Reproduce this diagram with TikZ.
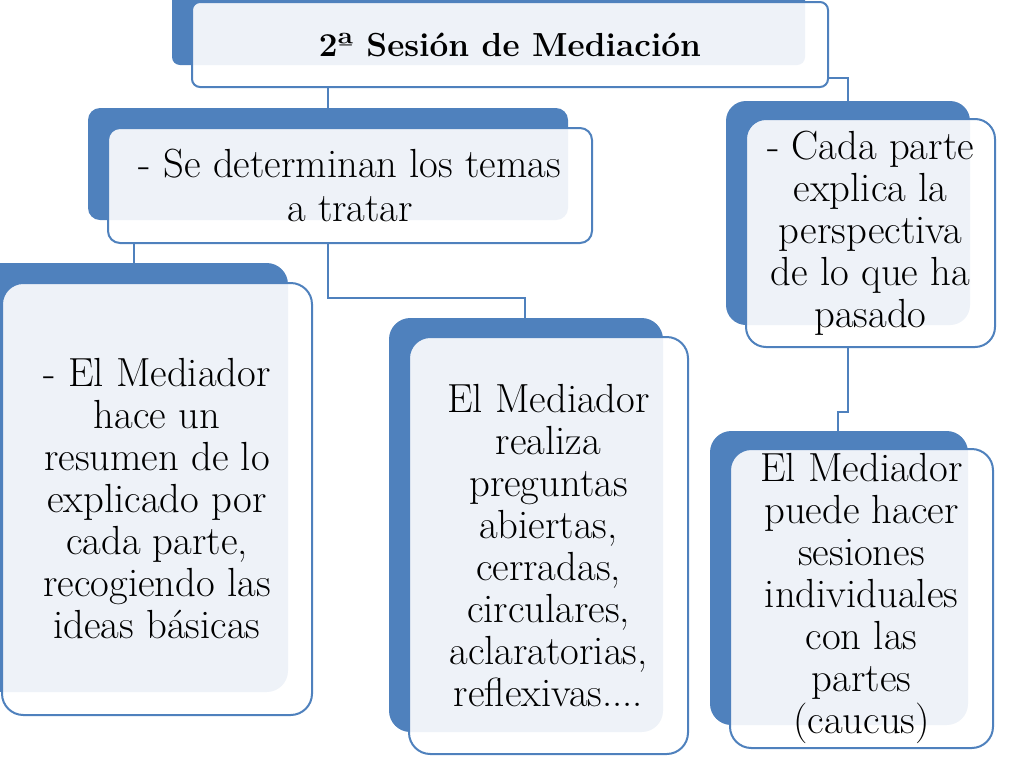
\documentclass[tikz,border=0pt]{standalone}
\usepackage{fontspec}
\definecolor{smblue}{RGB}{79,129,189}
\definecolor{paleblue}{RGB}{238,242,248}
\tikzset{
backpanel/.style={fill=smblue, rounded corners=#1},
frontfill/.style={fill=white, rounded corners=#1},
palefill/.style={fill=paleblue, rounded corners=#1},
frontpanel/.style={
  draw=smblue,
  line width=1.5pt,
  rounded corners=#1,
  inner sep=0pt,
  align=center,
  font=\fontsize{30.5}{31.5}\selectfont
  },
link/.style={draw=smblue, line width=1.6pt}
}

\begin{document}
\begin{tikzpicture}[x=0.75pt,y=0.75pt,yscale=-1,xscale=1]
\useasboundingbox (0,0) rectangle (1024,768);

% title
\fill[backpanel=6pt] (172,-20) rectangle (805,65);
\fill[frontfill=6pt] (192,2) rectangle (828,87);
\begin{scope}
\clip[rounded corners=6pt] (172,-20) rectangle (805,65);
\fill[palefill=6pt] (192,2) rectangle (828,87);
\end{scope}
\node[frontpanel=6pt, minimum width=477pt, minimum height=63.75pt, font=\fontsize{25}{30}\selectfont\bfseries] (title) at (510,44.5) {2ª Sesión de Mediación};

% temas
\fill[backpanel=9pt] (88,108) rectangle (568,220);
\fill[frontfill=9pt] (108,128) rectangle (592,243);
\begin{scope}
\clip[rounded corners=9pt] (88,108) rectangle (568,220);
\fill[palefill=9pt] (108,128) rectangle (592,243);
\end{scope}
\node[frontpanel=9pt, minimum width=363pt, minimum height=86.25pt, font=\fontsize{30.5}{33}\selectfont] (temas) at (350,185.5) {- Se determinan los temas\\a tratar};

% resumen
\fill[backpanel=16pt] (-20,263) rectangle (288,692);
\fill[frontfill=16pt] (2,283) rectangle (312,715);
\begin{scope}
\clip[rounded corners=16pt] (-20,263) rectangle (288,692);
\fill[palefill=16pt] (2,283) rectangle (312,715);
\end{scope}
\node[frontpanel=16pt, minimum width=232.5pt, minimum height=324pt] (resumen) at (157,499) {- El Mediador\\hace un\\resumen de lo\\explicado por\\cada parte,\\recogiendo las\\ideas básicas};

% preguntas
\fill[backpanel=16pt] (389,318) rectangle (663,732);
\fill[frontfill=16pt] (409,337) rectangle (688,754);
\begin{scope}
\clip[rounded corners=16pt] (389,318) rectangle (663,732);
\fill[palefill=16pt] (409,337) rectangle (688,754);
\end{scope}
\node[frontpanel=16pt, minimum width=209.25pt, minimum height=312.75pt] (preguntas) at (548.5,545.5) {El Mediador\\realiza\\preguntas\\abiertas,\\cerradas,\\circulares,\\aclaratorias,\\reflexivas....};

% perspectiva
\fill[backpanel=15pt] (726,101) rectangle (970,325);
\fill[frontfill=15pt] (746,119) rectangle (995,347);
\begin{scope}
\clip[rounded corners=15pt] (726,101) rectangle (970,325);
\fill[palefill=15pt] (746,119) rectangle (995,347);
\end{scope}
\node[frontpanel=15pt, minimum width=186.75pt, minimum height=171pt] (perspectiva) at (870.5,233) {- Cada parte\\explica la\\perspectiva\\de lo que ha\\pasado};

% caucus
\fill[backpanel=16pt] (710,431) rectangle (968,725);
\fill[frontfill=16pt] (730,449) rectangle (993,748);
\begin{scope}
\clip[rounded corners=16pt] (710,431) rectangle (968,725);
\fill[palefill=16pt] (730,449) rectangle (993,748);
\end{scope}
\node[frontpanel=16pt, minimum width=197.25pt, minimum height=224.25pt] (caucus) at (861.5,598.5) {El Mediador\\puede hacer\\sesiones\\individuales\\con las\\partes\\(caucus)};

% connectors
\coordinate (j1) at (328,108);
\draw[link] (title.south -| j1) -- (j1);
\coordinate (k1) at (848,78);
\coordinate (k2) at (848,101);
\draw[link] (title.east |- k1) -- (k1) -- (k2);
\coordinate (j3) at (134,263);
\draw[link] (temas.south -| j3) -- (j3);
\coordinate (j4) at (328,298);
\coordinate (j5) at (525,318);
\draw[link] (temas.south -| j4) -- (j4) -| (j5);
\coordinate (j6) at (848,412);
\coordinate (j7) at (838,431);
\draw[link] (perspectiva.south -| j6) -- (j6) -| (j7);

\end{tikzpicture}
\end{document}
